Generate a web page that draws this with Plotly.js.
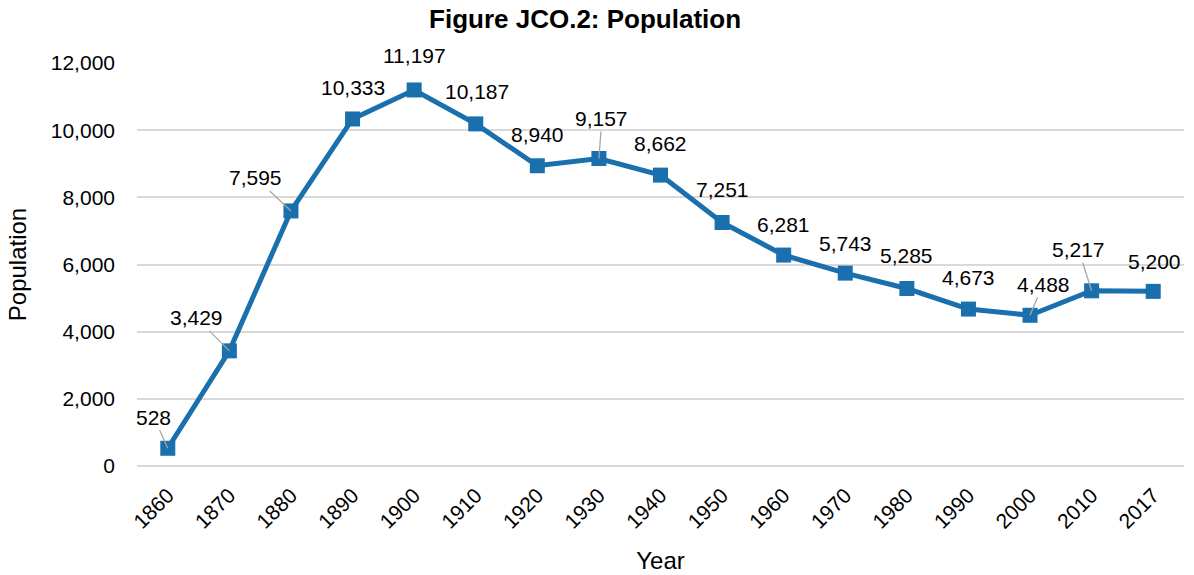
<!DOCTYPE html>
<html>
<head>
<meta charset="utf-8">
<script src="https://cdn.plot.ly/plotly-3.0.1.min.js"></script>
<style>html,body{margin:0;padding:0;background:#fff;}#chart{width:1194px;height:575px;}</style>
</head>
<body>
<div id="chart"></div>
<script>
const years = ["1860","1870","1880","1890","1900","1910","1920","1930","1940","1950","1960","1970","1980","1990","2000","2010","2017"];
const population = [528,3429,7595,10333,11197,10187,8940,9157,8662,7251,6281,5743,5285,4673,4488,5217,5200];
const yTicks = [0,2000,4000,6000,8000,10000,12000];

// label offsets in pixels [dx, dy, leaderLine]
const labelOffsets = [
  [-14,-31,true],[-33,-33,true],[-35,-33,true],[0,-31,false],[0,-34,false],[1,-32,false],
  [0,-31,false],[3,-40,true],[0,-32,false],[0,-33,false],[0,-31,false],[0,-30,false],
  [0,-33,false],[0,-32,false],[13,-31,true],[-13,-41,true],[1,-30,false]
];

function fmt(v){ return String(v).replace(/\B(?=(\d{3})+(?!\d))/g, ','); }
const annotations = [];
for (let i = 0; i < years.length; i++) {
  const o = labelOffsets[i];
  const a = {x: i, y: population[i], xref:'x', yref:'y', text: fmt(population[i]),
    font:{family:'Liberation Sans, Arial, sans-serif', size:21, color:'#000000'}};
  if (o[2]) {
    a.showarrow = true; a.ax = o[0]; a.ay = o[1]; a.arrowhead = 0; a.arrowwidth = 1.3;
    a.arrowcolor = '#a6a6a6'; a.standoff = 0;
  } else {
    a.showarrow = false; a.xshift = o[0]; a.yshift = -o[1];
  }
  annotations.push(a);
}

const trace = {
  x: years, y: population, type:'scatter', mode:'lines+markers',
  line:{color:'#1a6fad', width:5},
  marker:{symbol:'square', size:15, color:'#1a6fad'},
  hoverinfo:'skip'
};

const layout = {
  width:1194, height:575,
  margin:{l:137, r:10, t:63, b:109},
  paper_bgcolor:'#fff', plot_bgcolor:'#fff',
  showlegend:false,
  font:{family:'Liberation Sans, Arial, sans-serif', color:'#000'},
  title:{text:'<b>Figure JCO.2: Population</b>', x:0.49, xanchor:'center', y:0.968, yanchor:'middle',
    font:{size:26, family:'Liberation Sans, Arial, sans-serif', color:'#000'}},
  xaxis:{type:'category', range:[-0.5,16.5], showgrid:false, zeroline:false, showline:false,
    tickangle:-45, ticks:'', tickfont:{size:21}, ticklabelstandoff:12, automargin:false,
    title:{text:'Year', font:{size:24}, standoff:20}},
  yaxis:{range:[0,12000], tickvals:yTicks, ticktext:yTicks.map(fmt), showgrid:true, gridcolor:'#d9d9d9', gridwidth:1.5,
    zeroline:true, zerolinecolor:'#d9d9d9', zerolinewidth:1.5, showline:false, ticks:'', tickfont:{size:21},
    ticklabelstandoff:21, automargin:false,
    title:{text:'Population', font:{size:24}, standoff:17}},
  annotations: annotations
};

Plotly.newPlot('chart',[trace],layout,{displayModeBar:false});
</script>
</body>
</html>
